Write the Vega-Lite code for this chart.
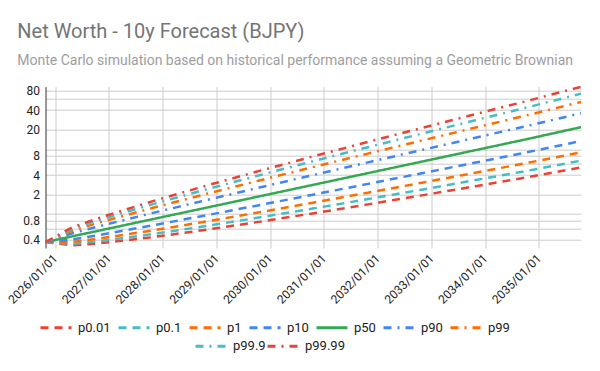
{
  "$schema": "https://vega.github.io/schema/vega-lite/v6.json",
  "width": 535.5,
  "height": 161.3,
  "autosize": {"type": "none"},
  "padding": {"left": 45.5, "top": 86.7, "right": 19, "bottom": 123},
  "title": {
    "text": "Net Worth - 10y Forecast (BJPY)",
    "subtitle": "Monte Carlo simulation based on historical performance assuming a Geometric Brownian",
    "anchor": "start",
    "frame": "group",
    "dx": -28.2,
    "offset": 14,
    "font": "Roboto",
    "fontSize": 20,
    "fontWeight": "normal",
    "color": "#757575",
    "subtitleFont": "Roboto",
    "subtitleFontSize": 14,
    "subtitleColor": "#9e9e9e",
    "subtitlePadding": 12
  },
  "data": {
    "values": [
      {"d": "2025-10-28", "s": "p0.01", "v": 0.37}, {"d": "2026-04-28", "s": "p0.01", "v": 0.329}, {"d": "2026-10-28", "s": "p0.01", "v": 0.354}, {"d": "2027-10-28", "s": "p0.01", "v": 0.441}, {"d": "2028-10-28", "s": "p0.01", "v": 0.575}, {"d": "2029-10-28", "s": "p0.01", "v": 0.765}, {"d": "2030-10-28", "s": "p0.01", "v": 1.034}, {"d": "2031-10-28", "s": "p0.01", "v": 1.412}, {"d": "2032-10-28", "s": "p0.01", "v": 1.943}, {"d": "2033-10-28", "s": "p0.01", "v": 2.69}, {"d": "2034-10-28", "s": "p0.01", "v": 3.742}, {"d": "2035-10-15", "s": "p0.01", "v": 5.229},
      {"d": "2025-10-28", "s": "p0.1", "v": 0.37}, {"d": "2026-04-28", "s": "p0.1", "v": 0.348}, {"d": "2026-10-28", "s": "p0.1", "v": 0.382}, {"d": "2027-10-28", "s": "p0.1", "v": 0.492}, {"d": "2028-10-28", "s": "p0.1", "v": 0.656}, {"d": "2029-10-28", "s": "p0.1", "v": 0.892}, {"d": "2030-10-28", "s": "p0.1", "v": 1.227}, {"d": "2031-10-28", "s": "p0.1", "v": 1.704}, {"d": "2032-10-28", "s": "p0.1", "v": 2.379}, {"d": "2033-10-28", "s": "p0.1", "v": 3.341}, {"d": "2034-10-28", "s": "p0.1", "v": 4.708}, {"d": "2035-10-15", "s": "p0.1", "v": 6.663},
      {"d": "2025-10-28", "s": "p1", "v": 0.37}, {"d": "2026-04-28", "s": "p1", "v": 0.371}, {"d": "2026-10-28", "s": "p1", "v": 0.419}, {"d": "2027-10-28", "s": "p1", "v": 0.561}, {"d": "2028-10-28", "s": "p1", "v": 0.771}, {"d": "2029-10-28", "s": "p1", "v": 1.074}, {"d": "2030-10-28", "s": "p1", "v": 1.511}, {"d": "2031-10-28", "s": "p1", "v": 2.139}, {"d": "2032-10-28", "s": "p1", "v": 3.043}, {"d": "2033-10-28", "s": "p1", "v": 4.345}, {"d": "2034-10-28", "s": "p1", "v": 6.225}, {"d": "2035-10-15", "s": "p1", "v": 8.938},
      {"d": "2025-10-28", "s": "p10", "v": 0.37}, {"d": "2026-04-28", "s": "p10", "v": 0.406}, {"d": "2026-10-28", "s": "p10", "v": 0.476}, {"d": "2027-10-28", "s": "p10", "v": 0.671}, {"d": "2028-10-28", "s": "p10", "v": 0.961}, {"d": "2029-10-28", "s": "p10", "v": 1.385}, {"d": "2030-10-28", "s": "p10", "v": 2.008}, {"d": "2031-10-28", "s": "p10", "v": 2.92}, {"d": "2032-10-28", "s": "p10", "v": 4.259}, {"d": "2033-10-28", "s": "p10", "v": 6.225}, {"d": "2034-10-28", "s": "p10", "v": 9.113}, {"d": "2035-10-15", "s": "p10", "v": 13.36},
      {"d": "2025-10-28", "s": "p50", "v": 0.37}, {"d": "2026-04-28", "s": "p50", "v": 0.454}, {"d": "2026-10-28", "s": "p50", "v": 0.556}, {"d": "2027-10-28", "s": "p50", "v": 0.837}, {"d": "2028-10-28", "s": "p50", "v": 1.258}, {"d": "2029-10-28", "s": "p50", "v": 1.892}, {"d": "2030-10-28", "s": "p50", "v": 2.846}, {"d": "2031-10-28", "s": "p50", "v": 4.279}, {"d": "2032-10-28", "s": "p50", "v": 6.435}, {"d": "2033-10-28", "s": "p50", "v": 9.677}, {"d": "2034-10-28", "s": "p50", "v": 14.55}, {"d": "2035-10-15", "s": "p50", "v": 21.88},
      {"d": "2025-10-28", "s": "p90", "v": 0.37}, {"d": "2026-04-28", "s": "p90", "v": 0.507}, {"d": "2026-10-28", "s": "p90", "v": 0.65}, {"d": "2027-10-28", "s": "p90", "v": 1.043}, {"d": "2028-10-28", "s": "p90", "v": 1.649}, {"d": "2029-10-28", "s": "p90", "v": 2.585}, {"d": "2030-10-28", "s": "p90", "v": 4.033}, {"d": "2031-10-28", "s": "p90", "v": 6.27}, {"d": "2032-10-28", "s": "p90", "v": 9.722}, {"d": "2033-10-28", "s": "p90", "v": 15.04}, {"d": "2034-10-28", "s": "p90", "v": 23.23}, {"d": "2035-10-15", "s": "p90", "v": 35.83},
      {"d": "2025-10-28", "s": "p99", "v": 0.37}, {"d": "2026-04-28", "s": "p99", "v": 0.554}, {"d": "2026-10-28", "s": "p99", "v": 0.739}, {"d": "2027-10-28", "s": "p99", "v": 1.249}, {"d": "2028-10-28", "s": "p99", "v": 2.055}, {"d": "2029-10-28", "s": "p99", "v": 3.333}, {"d": "2030-10-28", "s": "p99", "v": 5.359}, {"d": "2031-10-28", "s": "p99", "v": 8.56}, {"d": "2032-10-28", "s": "p99", "v": 13.61}, {"d": "2033-10-28", "s": "p99", "v": 21.55}, {"d": "2034-10-28", "s": "p99", "v": 34.02}, {"d": "2035-10-15", "s": "p99", "v": 53.56},
      {"d": "2025-10-28", "s": "p99.9", "v": 0.37}, {"d": "2026-04-28", "s": "p99.9", "v": 0.592}, {"d": "2026-10-28", "s": "p99.9", "v": 0.811}, {"d": "2027-10-28", "s": "p99.9", "v": 1.424}, {"d": "2028-10-28", "s": "p99.9", "v": 2.413}, {"d": "2029-10-28", "s": "p99.9", "v": 4.014}, {"d": "2030-10-28", "s": "p99.9", "v": 6.597}, {"d": "2031-10-28", "s": "p99.9", "v": 10.75}, {"d": "2032-10-28", "s": "p99.9", "v": 17.41}, {"d": "2033-10-28", "s": "p99.9", "v": 28.03}, {"d": "2034-10-28", "s": "p99.9", "v": 44.96}, {"d": "2035-10-15", "s": "p99.9", "v": 71.86},
      {"d": "2025-10-28", "s": "p99.99", "v": 0.37}, {"d": "2026-04-28", "s": "p99.99", "v": 0.625}, {"d": "2026-10-28", "s": "p99.99", "v": 0.875}, {"d": "2027-10-28", "s": "p99.99", "v": 1.587}, {"d": "2028-10-28", "s": "p99.99", "v": 2.756}, {"d": "2029-10-28", "s": "p99.99", "v": 4.678}, {"d": "2030-10-28", "s": "p99.99", "v": 7.829}, {"d": "2031-10-28", "s": "p99.99", "v": 12.97}, {"d": "2032-10-28", "s": "p99.99", "v": 21.31}, {"d": "2033-10-28", "s": "p99.99", "v": 34.81}, {"d": "2034-10-28", "s": "p99.99", "v": 56.57}, {"d": "2035-10-15", "s": "p99.99", "v": 91.55}
    ]
  },
  "encoding": {
    "x": {
      "field": "d",
      "type": "temporal",
      "scale": {"type": "utc", "domain": ["2025-10-28", "2035-10-15"]},
      "axis": {
        "title": null,
        "format": "%Y/%m/%d",
        "tickCount": {"interval": "year", "step": 1},
        "grid": true,
        "gridColor": "#cccccc",
        "domain": false,
        "ticks": false,
        "labelAngle": -45,
        "labelAlign": "right",
        "labelBaseline": "middle",
        "labelPadding": 8,
        "labelFontSize": 12,
        "labelColor": "#222222",
        "labelOverlap": false,
        "labelFlush": false
      }
    },
    "y": {
      "field": "v",
      "type": "quantitative",
      "scale": {"type": "log", "domain": [0.3, 92], "nice": false},
      "axis": {
        "title": null,
        "values": [0.4, 0.6, 0.8, 1, 2, 4, 6, 8, 10, 20, 40, 60, 80],
        "labelExpr": "(datum.value == 0.6 || datum.value == 1 || datum.value == 6 || datum.value == 10 || datum.value == 60) ? '' : datum.label",
        "format": "~g",
        "grid": true,
        "gridColor": "#cccccc",
        "domain": true,
        "domainColor": "#333333",
        "ticks": false,
        "labelPadding": 6,
        "labelFontSize": 12,
        "labelColor": "#222222",
        "labelOverlap": false
      }
    }
  },
  "layer": [
    {
      "transform": [{"filter": {"field": "s", "oneOf": ["p0.01", "p0.1", "p1", "p10", "p50", "p90", "p99"]}}],
      "mark": {"type": "line", "strokeWidth": 2.5},
      "encoding": {
        "color": {
          "field": "s", "type": "nominal",
          "scale": {"domain": ["p0.01", "p0.1", "p1", "p10", "p50", "p90", "p99"], "range": ["#ea4335", "#46bdc6", "#ff6d01", "#4285f4", "#34a853", "#4285f4", "#ff6d01"]},
          "legend": {"orient": "none", "legendX": -6.5, "legendY": 224, "direction": "horizontal", "columns": 7, "title": null, "symbolType": "stroke", "symbolSize": 961, "symbolStrokeWidth": 3, "labelFontSize": 13, "labelColor": "#222222", "columnPadding": 1, "labelOffset": 5,
            "encode": {"symbols": {"update": {"strokeDash": {"signal": "datum.value == 'p50' ? [1, 0] : (indexof(['p90', 'p99'], datum.value) >= 0 ? [12, 8, 3, 8] : [12, 7])"}}}}}
        },
        "strokeDash": {
          "field": "s", "type": "nominal",
          "scale": {"domain": ["p0.01", "p0.1", "p1", "p10", "p50", "p90", "p99"], "range": [[8, 6], [8, 6], [8, 6], [8, 6], [1, 0], [8, 6, 2, 6], [8, 6, 2, 6]]},
          "legend": null
        }
      }
    },
    {
      "transform": [{"filter": {"field": "s", "oneOf": ["p99.9", "p99.99"]}}],
      "mark": {"type": "line", "strokeWidth": 2.5},
      "encoding": {
        "color": {
          "field": "s", "type": "nominal",
          "scale": {"domain": ["p99.9", "p99.99"], "range": ["#46bdc6", "#ea4335"]},
          "legend": {"orient": "none", "legendX": 148.5, "legendY": 242.6, "direction": "horizontal", "columns": 2, "title": null, "symbolType": "stroke", "symbolSize": 961, "symbolStrokeWidth": 3, "labelFontSize": 13, "labelColor": "#222222", "columnPadding": -5, "labelOffset": 5,
            "encode": {"symbols": {"update": {"strokeDash": {"signal": "[12, 8, 3, 8]"}}}}}
        },
        "strokeDash": {
          "field": "s", "type": "nominal",
          "scale": {"domain": ["p99.9", "p99.99"], "range": [[8, 6, 2, 6], [8, 6, 2, 6]]},
          "legend": null
        }
      }
    }
  ],
  "resolve": {"scale": {"color": "independent", "strokeDash": "independent"}},
  "config": {
    "font": "Roboto",
    "view": {"stroke": null}
  }
}
